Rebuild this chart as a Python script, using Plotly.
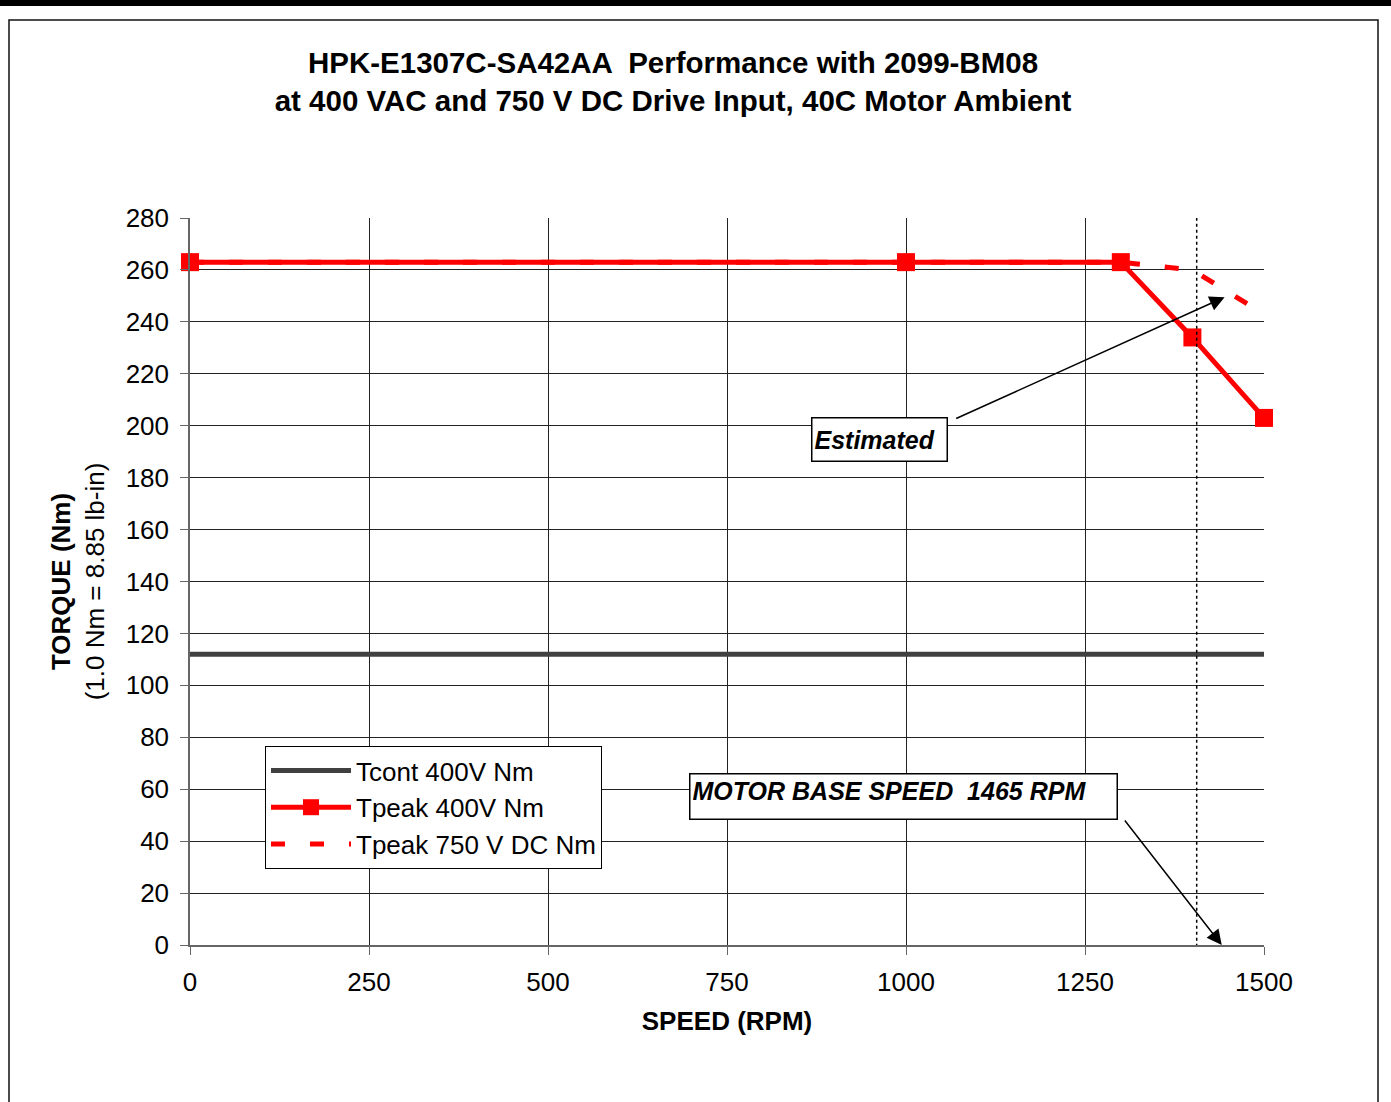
import plotly.graph_objects as go

# ---- data ----
speed_cont = [0, 1500]
tcont_400v = [112, 112]

speed_peak = [0, 1000, 1300, 1400, 1500]
tpeak_400v = [263, 263, 263, 234, 203]

speed_peak_dc = [0, 1000, 1300, 1400, 1500]
tpeak_750vdc = [263, 263, 263, 260, 243]

base_speed_line = 1406

x_ticks = [0, 250, 500, 750, 1000, 1250, 1500]
y_ticks = list(range(0, 281, 20))

FONT = "Liberation Sans, Arial, sans-serif"

# plot-area pixel geometry (for paper conversions of decoration shapes)
L, R, T, B = 190, 1264, 218, 945
W, H = 1391, 1102
def px(x):
    return (x - L) / (R - L)
def py(y):
    return (B - y) / (B - T)

fig = go.Figure()

fig.add_trace(go.Scatter(
    x=speed_cont, y=tcont_400v, mode="lines", name="Tcont 400V Nm",
    line=dict(color="#404040", width=5), legendrank=1, cliponaxis=False))
fig.add_trace(go.Scatter(
    x=speed_peak_dc, y=tpeak_750vdc, mode="lines", name="Tpeak 750 V DC Nm",
    line=dict(color="#FF0000", width=5, dash="14px,25px"), legendrank=3, cliponaxis=False))
fig.add_trace(go.Scatter(
    x=speed_peak, y=tpeak_400v, mode="lines+markers", name="Tpeak 400V Nm",
    line=dict(color="#FF0000", width=5),
    marker=dict(symbol="square", size=18, color="#FF0000"),
    legendrank=2, cliponaxis=False))

# base speed dotted line
fig.add_shape(type="line", xref="x", yref="y", x0=base_speed_line, x1=base_speed_line,
              y0=-3, y1=280, line=dict(color="black", width=1.5, dash="dot"))

# outer frame and top bar
fig.add_shape(type="rect", xref="paper", yref="paper",
              x0=px(9), x1=px(1378), y0=py(1110), y1=py(20),
              line=dict(color="#111", width=1.5))
fig.add_shape(type="rect", xref="paper", yref="paper",
              x0=px(0), x1=px(W), y0=py(6), y1=py(0),
              line=dict(width=0), fillcolor="black")

# annotations
fig.add_annotation(x=963, y=194.5, xref="x", yref="y", text="<b><i>Estimated</i></b>",
                   showarrow=False, font=dict(family=FONT, size=25, color="black"),
                   bordercolor="black", borderwidth=1.5, bgcolor="white",
                   width=130, height=38, align="left", borderpad=2)
fig.add_annotation(x=1445, y=249.5, ax=1068, ay=202.5, xref="x", yref="y",
                   axref="x", ayref="y", text="", showarrow=True,
                   arrowhead=2, arrowsize=2, arrowwidth=1.5, arrowcolor="black")

fig.add_annotation(x=996.5, y=57.2, xref="x", yref="y",
                   text="<b><i>MOTOR BASE SPEED  1465 RPM</i></b>",
                   showarrow=False, font=dict(family=FONT, size=25, color="black"),
                   bordercolor="black", borderwidth=1.5, bgcolor="white",
                   width=422, height=40, align="left", valign="top", borderpad=2)
fig.add_annotation(x=1441, y=0, ax=1304, ay=48.5, xref="x", yref="y",
                   axref="x", ayref="y", text="", showarrow=True,
                   arrowhead=2, arrowsize=2, arrowwidth=1.5, arrowcolor="black")

fig.update_layout(
    width=W, height=H,
    paper_bgcolor="white", plot_bgcolor="white",
    margin=dict(l=L, r=W - R, t=T, b=H - B),
    font=dict(family=FONT, size=26, color="black"),
    title=dict(text="<b>HPK-E1307C-SA42AA  Performance with 2099-BM08<br>at 400 VAC and 750 V DC Drive Input, 40C Motor Ambient</b>",
               x=673 / W, xanchor="center", y=1 - 72.5 / H, yanchor="middle",
               font=dict(family=FONT, size=29.5, color="black")),
    showlegend=True,
    legend=dict(x=px(265), y=py(746), xanchor="left", yanchor="top",
                bgcolor="white", bordercolor="black", borderwidth=1,
                font=dict(family=FONT, size=26, color="black"), itemwidth=80),
    xaxis=dict(range=[0, 1500], tickvals=x_ticks, showgrid=True, gridcolor="#222", gridwidth=1,
               showline=True, linecolor="#666", linewidth=1.5, ticks="outside", ticklen=8,
               tickcolor="#666", zeroline=False, ticklabelstandoff=5,
               title=dict(text="<b>SPEED (RPM)</b>", font=dict(size=26), standoff=16)),
    yaxis=dict(range=[0, 280], tickvals=y_ticks, showgrid=True, gridcolor="#222", gridwidth=1,
               showline=True, linecolor="#666", linewidth=1.5, ticks="outside", ticklen=8,
               tickcolor="#666", zeroline=False, ticklabelstandoff=6,
               title=dict(text="<b>TORQUE (Nm)</b><br>(1.0 Nm = 8.85 lb-in)", font=dict(size=26), standoff=14)),
)

fig.write_html("out.html", config={"displayModeBar": False},
               post_script="document.body.style.margin='0';document.body.style.overflow='hidden';")
